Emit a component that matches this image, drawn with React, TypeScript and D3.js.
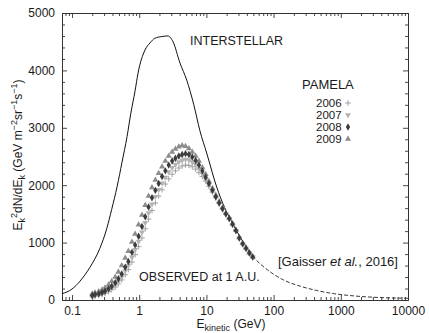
import React, { useEffect, useRef } from 'react';
import * as d3 from 'd3';

// kinetic energy bins (GeV) shared by the PAMELA series
const energies = [0.20, 0.22, 0.25, 0.28, 0.31, 0.35, 0.39, 0.44, 0.49, 0.55, 0.62, 0.69, 0.78, 0.87, 0.98, 1.10, 1.23, 1.38, 1.55, 1.74, 1.95, 2.19, 2.45, 2.75, 3.09, 3.46, 3.89, 4.36, 4.89, 5.49, 6.16, 6.91, 7.75, 8.70, 9.76, 10.9, 12.3, 13.8, 15.5, 17.4, 19.5, 21.9, 24.5, 27.5, 30.9, 34.7, 38.9, 43.6, 48.9];

const flux2006 = [55, 65, 80, 95, 115, 145, 180, 225, 280, 350, 440, 530, 660, 790, 930, 1080, 1240, 1410, 1560, 1690, 1810, 1920, 2020, 2110, 2190, 2250, 2300, 2335, 2350, 2345, 2320, 2280, 2220, 2150, 2070, 1980, 1880, 1780, 1680, 1585, 1495, 1415, 1315, 1205, 1075, 975, 895, 815, 745];
const flux2007 = [65, 78, 93, 110, 133, 168, 208, 260, 322, 400, 505, 600, 745, 875, 1020, 1180, 1345, 1515, 1670, 1800, 1920, 2035, 2135, 2230, 2305, 2360, 2405, 2435, 2450, 2440, 2405, 2355, 2285, 2200, 2105, 2005, 1895, 1790, 1685, 1588, 1498, 1418, 1318, 1208, 1078, 978, 898, 818, 748];
const flux2008 = [80, 95, 110, 130, 155, 195, 240, 300, 370, 455, 570, 670, 830, 960, 1110, 1280, 1450, 1620, 1780, 1910, 2030, 2150, 2250, 2350, 2420, 2470, 2510, 2535, 2550, 2535, 2490, 2430, 2350, 2250, 2140, 2030, 1910, 1800, 1690, 1590, 1500, 1420, 1320, 1210, 1080, 980, 900, 820, 750];
const flux2009 = [110, 125, 150, 180, 215, 265, 325, 400, 490, 600, 730, 850, 1010, 1150, 1310, 1480, 1650, 1810, 1960, 2090, 2210, 2320, 2420, 2510, 2580, 2630, 2670, 2690, 2680, 2640, 2580, 2510, 2420, 2310, 2190, 2070, 1945, 1830, 1715, 1610, 1515, 1430, 1330, 1220, 1090, 990, 905, 825, 755];

// local interstellar spectrum (solid) and its extension (dashed)
const interstellarE = [0.071, 0.1, 0.132, 0.185, 0.26, 0.33, 0.39, 0.47, 0.555, 0.66, 0.75, 0.87, 0.96, 1.22, 1.45, 1.71, 2.18, 2.67, 3.2, 4.04, 5.1, 6.5, 8.0, 10.1, 14.4, 17.6, 22, 28, 36, 48];
const interstellarFlux = [110, 190, 330, 570, 900, 1250, 1580, 1980, 2400, 2850, 3250, 3650, 3950, 4355, 4480, 4560, 4590, 4600, 4495, 4130, 3830, 3400, 2950, 2560, 1950, 1680, 1440, 1210, 990, 760];
const extensionE = [48, 80, 137, 250, 440, 770, 1350, 2400, 5000, 10000];
const extensionFlux = [760, 530, 355, 240, 165, 112, 78, 55, 38, 30];

const years = ['2006', '2007', '2008', '2009'];
const xMajorTicks = [0.1, 1, 10, 100, 1000, 10000];
const yMajorTicks = [0, 1000, 2000, 3000, 4000, 5000];

const width = 429;
const height = 333;

export default function App() {
  const svgRef = useRef<SVGSVGElement>(null);

  useEffect(() => {
    if (!svgRef.current) return;
    const svg = d3.select(svgRef.current);
    svg.selectAll('*').remove();

    const font = "'Liberation Sans', Arial, Helvetica, sans-serif";
    const ink = '#1a1a1a';
    const left = 62, right = 408, top = 13, bottom = 300;

    const x = d3.scaleLog().domain([0.071, 10000]).range([left, right]);
    const y = d3.scaleLinear().domain([0, 5000]).range([bottom, top]);

    svg.append('rect').attr('width', width).attr('height', height).attr('fill', '#fff');

    const xMinor = x.ticks().filter(t => !xMajorTicks.includes(t));
    const yMinor = d3.range(0, 5001, 200).filter(t => t % 1000 !== 0);

    const styleAxis = (g: d3.Selection<SVGGElement, unknown, null, undefined>) => {
      g.select('.domain').attr('stroke', '#333').attr('stroke-width', 1);
      g.selectAll('.tick line').attr('stroke', '#333').attr('stroke-width', 0.9);
      g.selectAll('text').attr('font-family', font).attr('font-size', '12px').attr('fill', ink);
    };

    // bottom axis
    svg.append('g').attr('transform', `translate(0,${bottom})`)
      .call(d3.axisBottom(x).tickValues(xMinor).tickSize(-3).tickSizeOuter(0).tickFormat(() => ''))
      .call(styleAxis);
    svg.append('g').attr('transform', `translate(0,${bottom})`)
      .call(d3.axisBottom(x).tickValues(xMajorTicks).tickSize(-5).tickSizeOuter(0).tickPadding(6).tickFormat(d => String(d)))
      .call(styleAxis);
    // top axis
    svg.append('g').attr('transform', `translate(0,${top})`)
      .call(d3.axisTop(x).tickValues(xMinor).tickSize(-3).tickSizeOuter(0).tickFormat(() => ''))
      .call(styleAxis);
    svg.append('g').attr('transform', `translate(0,${top})`)
      .call(d3.axisTop(x).tickValues(xMajorTicks).tickSize(-5).tickSizeOuter(0).tickFormat(() => ''))
      .call(styleAxis);
    // left axis
    svg.append('g').attr('transform', `translate(${left},0)`)
      .call(d3.axisLeft(y).tickValues(yMinor).tickSize(-3).tickSizeOuter(0).tickFormat(() => ''))
      .call(styleAxis);
    svg.append('g').attr('transform', `translate(${left},0)`)
      .call(d3.axisLeft(y).tickValues(yMajorTicks).tickSize(-5).tickSizeOuter(0).tickPadding(7).tickFormat(d => String(d)))
      .call(styleAxis);
    // right axis
    svg.append('g').attr('transform', `translate(${right},0)`)
      .call(d3.axisRight(y).tickValues(yMinor).tickSize(-3).tickSizeOuter(0).tickFormat(() => ''))
      .call(styleAxis);
    svg.append('g').attr('transform', `translate(${right},0)`)
      .call(d3.axisRight(y).tickValues(yMajorTicks).tickSize(-5).tickSizeOuter(0).tickFormat(() => ''))
      .call(styleAxis);

    // interstellar curve
    const line = d3.line<[number, number]>().x(d => x(d[0])).y(d => y(d[1])).curve(d3.curveMonotoneX);
    svg.append('path')
      .datum(interstellarE.map((e, i) => [e, interstellarFlux[i]] as [number, number]))
      .attr('fill', 'none').attr('stroke', '#111').attr('stroke-width', 1).attr('d', line);
    svg.append('path')
      .datum(extensionE.map((e, i) => [e, extensionFlux[i]] as [number, number]))
      .attr('fill', 'none').attr('stroke', '#222').attr('stroke-width', 0.9)
      .attr('stroke-dasharray', '4,2').attr('d', line);

    // PAMELA markers
    const symbols: Record<string, { path: string; fill: string; stroke: string; rot: number }> = {
      '2006': { path: 'M-2.8,0H2.8M0,-2.8V2.8', fill: 'none', stroke: '#999', rot: 0 },
      '2007': { path: d3.symbol().type(d3.symbolTriangle).size(15)() as string, fill: '#b2b2b2', stroke: 'none', rot: 180 },
      '2008': { path: d3.symbol().type(d3.symbolDiamond).size(16)() as string, fill: '#3c3c3c', stroke: 'none', rot: 0 },
      '2009': { path: d3.symbol().type(d3.symbolTriangle).size(16)() as string, fill: '#8c8c8c', stroke: 'none', rot: 0 },
    };
    const series: Record<string, number[]> = { '2006': flux2006, '2007': flux2007, '2008': flux2008, '2009': flux2009 };

    ['2006', '2007', '2009', '2008'].forEach(yr => {
      const s = symbols[yr];
      svg.append('g').selectAll('path')
        .data(energies.map((e, i) => [e, series[yr][i]]))
        .enter().append('path')
        .attr('d', s.path)
        .attr('transform', d => `translate(${x(d[0])},${y(d[1])}) rotate(${s.rot})`)
        .attr('fill', s.fill).attr('stroke', s.stroke).attr('stroke-width', 0.9);
    });

    // legend
    svg.append('text').attr('x', 302).attr('y', 89)
      .attr('font-family', font).attr('font-size', '13px').attr('fill', ink).text('PAMELA');
    years.forEach((yr, i) => {
      const by = 107 + i * 12;
      svg.append('text').attr('x', 316).attr('y', by)
        .attr('font-family', font).attr('font-size', '11.5px').attr('fill', ink).text(yr);
      const s = symbols[yr];
      svg.append('path').attr('d', s.path)
        .attr('transform', `translate(348,${by - 4}) rotate(${s.rot})`)
        .attr('fill', s.fill).attr('stroke', s.stroke).attr('stroke-width', 0.9);
    });

    // annotations
    svg.append('text').attr('x', 190).attr('y', 45)
      .attr('font-family', font).attr('font-size', '12.5px').attr('fill', ink).text('INTERSTELLAR');
    svg.append('text').attr('x', 139).attr('y', 281)
      .attr('font-family', font).attr('font-size', '12.5px').attr('fill', ink).text('OBSERVED at 1 A.U.');
    const cite = svg.append('text').attr('x', 278).attr('y', 266)
      .attr('font-family', font).attr('font-size', '13px').attr('fill', ink);
    cite.append('tspan').text('[Gaisser ');
    cite.append('tspan').attr('font-style', 'italic').text('et al.');
    cite.append('tspan').text(', 2016]');

    // axis titles
    const xt = svg.append('text').attr('x', 231).attr('y', 328).attr('text-anchor', 'middle')
      .attr('font-family', font).attr('font-size', '12px').attr('fill', ink);
    xt.append('tspan').text('E');
    xt.append('tspan').attr('font-size', '9px').attr('dy', 3).text('kinetic');
    xt.append('tspan').attr('dy', -3).text(' (GeV)');

    const yt = svg.append('text').attr('transform', 'translate(22,155) rotate(-90)').attr('text-anchor', 'middle')
      .attr('font-family', font).attr('font-size', '12px').attr('fill', ink);
    yt.append('tspan').text('E');
    yt.append('tspan').attr('font-size', '9px').attr('dy', 3).text('k');
    yt.append('tspan').attr('font-size', '9px').attr('dy', -8).text('2');
    yt.append('tspan').attr('dy', 5).text('dN/dE');
    yt.append('tspan').attr('font-size', '9px').attr('dy', 3).text('k');
    yt.append('tspan').attr('dy', -3).text(' (GeV m');
    yt.append('tspan').attr('font-size', '9px').attr('dy', -5).text('\u22122');
    yt.append('tspan').attr('dy', 5).text('sr');
    yt.append('tspan').attr('font-size', '9px').attr('dy', -5).text('\u22121');
    yt.append('tspan').attr('dy', 5).text('s');
    yt.append('tspan').attr('font-size', '9px').attr('dy', -5).text('\u22121');
    yt.append('tspan').attr('dy', 5).text(')');
  }, []);

  return (
    <svg ref={svgRef} width={width} height={height} viewBox={`0 0 ${width} ${height}`}
      style={{ position: 'absolute', left: 0, top: 0, display: 'block' }} />
  );
}
